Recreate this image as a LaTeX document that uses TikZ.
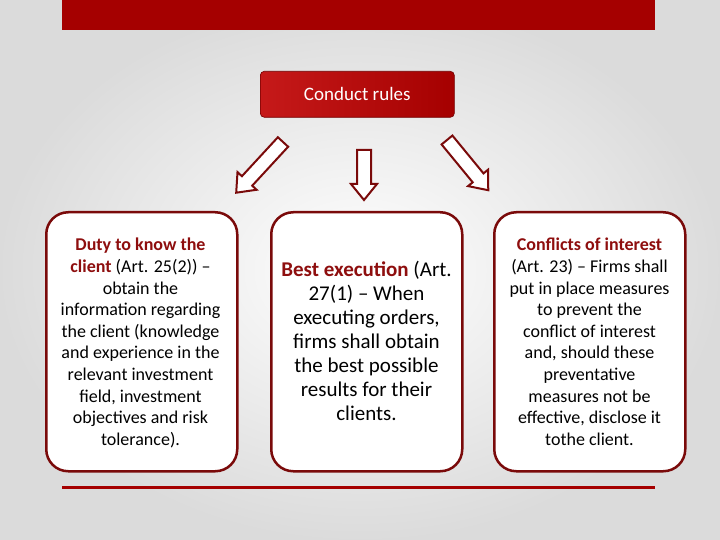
\documentclass[tikz,border=0pt]{standalone}
\usepackage{fontspec}
\setmainfont{Carlito}
\definecolor{dred}{HTML}{7A0A0A}
\definecolor{bred}{HTML}{A50000}
\definecolor{tred}{HTML}{8E0E0E}
\begin{document}
\begin{tikzpicture}[x=1pt,y=-1pt,
  panel/.style={draw=dred,line width=2.5pt,fill=white,rounded corners=22pt,minimum width=191pt,minimum height=259pt,anchor=north west,inner sep=0pt},
  ptext/.style={align=center,anchor=north,inner sep=0pt},
  blockarrow/.style={draw=dred,line width=2pt,fill=white,line join=miter}]
\shade[inner color=white,outer color=black!14] (0,0) rectangle (720,540);
\useasboundingbox (0,0) rectangle (720,540);
\fill[bred] (62,0) rectangle (655,30);
\node[draw=bred!70!black,line width=0.6pt,rounded corners=4pt,left color=red!75!black!90,right color=bred,minimum width=194pt,minimum height=46pt,anchor=north west,text=white,font=\fontsize{19}{20}\selectfont] (top) at (260,71) {Conduct rules};
% arrows
\foreach \sx/\sy/\ang/\L in {283/142/132.7/69, 364/150/90/50, 447/140/50.6/65}{
  \begin{scope}[shift={(\sx,\sy)},rotate=-\ang]
  \draw[blockarrow] (0,-7) -- (\L-16,-7) -- (\L-16,-13) -- (\L,0) -- (\L-16,13) -- (\L-16,7) -- (0,7) -- cycle;
  \end{scope}}
\node[panel] (p1) at (45,211) {};
\node[panel] (p2) at (270,211) {};
\node[panel] (p3) at (493,211) {};
\node[ptext,font=\fontsize{18}{21.6}\selectfont] (t1) at (140.5,238) {{\bfseries\color{tred}Duty to know the}\\{\bfseries\color{tred}client} (Art. 25(2)) –\\obtain the\\information regarding\\the client (knowledge\\and experience in the\\relevant investment\\field, investment\\objectives and risk\\tolerance).};
\node[ptext,font=\fontsize{21}{24}\selectfont] (t2) at (366.5,261) {{\bfseries\color{tred}Best execution} (Art.\\27(1) – When\\executing orders,\\firms shall obtain\\the best possible\\results for their\\clients.};
\node[ptext,font=\fontsize{18}{21.6}\selectfont] (t3) at (589.5,238) {{\bfseries\color{tred}Conflicts of interest}\\(Art. 23) – Firms shall\\put in place measures\\to prevent the\\conflict of interest\\and, should these\\preventative\\measures not be\\effective, disclose it\\tothe client.};
\draw[bred,line width=3pt] (62,487) -- (655,487);
\end{tikzpicture}
\end{document}
